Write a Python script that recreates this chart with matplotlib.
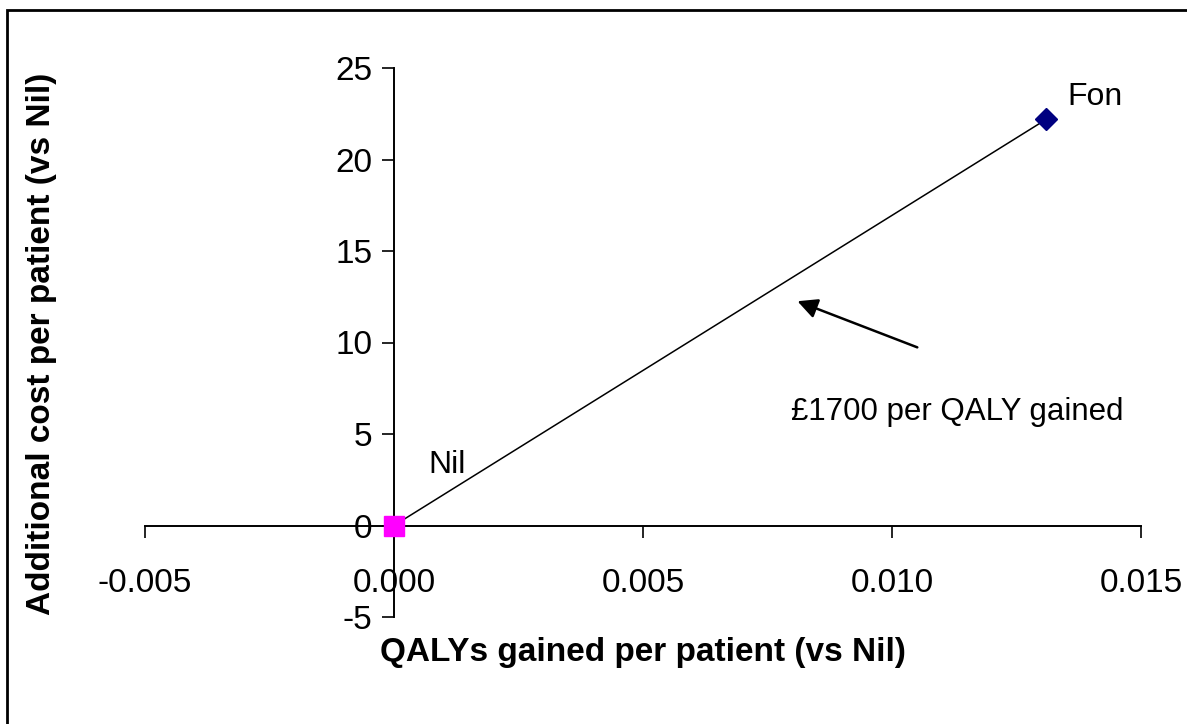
import matplotlib.pyplot as plt
from matplotlib.patches import Rectangle

plt.rcParams['font.family'] = ['Liberation Sans', 'DejaVu Sans']
plt.rcParams['axes.unicode_minus'] = False

# data
nil_x, nil_y = [0.0], [0.0]
fon_x, fon_y = [0.0131], [22.2]
line_x = [0.0, 0.0131]
line_y = [0.0, 22.2]
x_ticks = [-0.005, 0.0, 0.005, 0.010, 0.015]
x_ticklabels = ["-0.005", "0.000", "0.005", "0.010", "0.015"]
y_ticks = [-5, 0, 5, 10, 15, 20, 25]
icer_text = "£1700 per QALY gained"

fig = plt.figure(figsize=(11.87, 7.24), dpi=100)
ax = fig.add_axes([145 / 1187, 1 - 617 / 724, 996 / 1187, 549 / 724])

ax.plot(line_x, line_y, color="black", lw=1.1, zorder=2)
ax.plot(nil_x, nil_y, "s", color="#FF00FF", ms=15, zorder=3, clip_on=False)
ax.plot(fon_x, fon_y, "D", color="#000080", ms=11.5, zorder=3, clip_on=False)

ax.text(0.00106, 3.3, "Nil", fontsize=23, ha="center", va="center")
ax.text(0.01408, 23.4, "Fon", fontsize=23, ha="center", va="center")
ax.annotate("", xy=(0.00805, 12.31), xytext=(0.01056, 9.68),
            arrowprops=dict(arrowstyle="-|>", color="black", lw=1.8,
                            mutation_scale=30))
ax.text(0.01132, 6.2, icer_text, fontsize=22.5, ha="center", va="center")

ax.set_xlim(-0.005, 0.015)
ax.set_ylim(-5, 25)
ax.spines["left"].set_position(("data", 0))
ax.spines["bottom"].set_position(("data", 0))
ax.spines["right"].set_visible(False)
ax.spines["top"].set_visible(False)
for s in ("left", "bottom"):
    ax.spines[s].set_linewidth(1.4)

ax.set_xticks(x_ticks)
ax.set_xticklabels(x_ticklabels)
ax.set_yticks(y_ticks)
ax.tick_params(axis="x", direction="out", length=8.5, width=1.2,
               pad=22, labelsize=24)
ax.tick_params(axis="y", direction="out", length=8.5, width=1.2,
               pad=7, labelsize=24)

fig.text(643 / 1187, 1 - 652 / 724, "QALYs gained per patient (vs Nil)",
         fontsize=24, fontweight="bold", ha="center", va="center")
fig.text(42 / 1187, 1 - 344 / 724, "Additional cost per patient (vs Nil)",
         fontsize=24, fontweight="bold", ha="center", va="center",
         rotation=90)

fig.patches.append(Rectangle((7 / 1187, -0.1), 1.2, 1 - 10 / 724 + 0.1,
                             transform=fig.transFigure, fill=False,
                             edgecolor="black", lw=2))

fig.savefig("out.png", dpi=100)
